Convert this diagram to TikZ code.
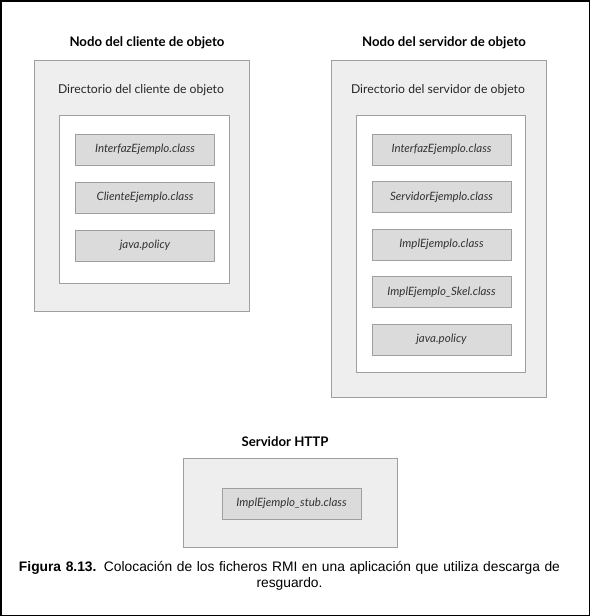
\documentclass[tikz,border=0pt]{standalone}
\usepackage{fontspec}
\setmainfont{Lato}
\newfontfamily\capfont{Liberation Sans}
\usetikzlibrary{positioning}

\begin{document}
\begin{tikzpicture}[x=1pt,y=-1pt,
  nodo/.style={draw=gray!75,line width=0.9pt,fill=gray!13,inner sep=0pt},
  dir/.style={draw=gray!75,line width=0.9pt,fill=white,inner sep=0pt},
  fich/.style={draw=gray!75,line width=0.9pt,fill=gray!28,inner sep=0pt,
    minimum width=139pt,minimum height=31pt,font=\fontsize{11.5}{13}\selectfont\itshape,text=black!80},
  titulo/.style={font=\fontsize{13.2}{15}\selectfont\bfseries},
  subtitulo/.style={font=\fontsize{12.2}{14}\selectfont,text=black!85}]
  \useasboundingbox(0,0)rectangle(590,616);
  \draw[line width=1.5pt](0.75,0.75)rectangle(589.25,615.25);
  % nodo cliente
  \node[titulo](tcli)at(147,43){Nodo del cliente de objeto};
  \node[nodo,minimum width=215pt,minimum height=251pt](cli)at(141.5,185.5){};
  \node[subtitulo](dcli)at(141,90){Directorio del cliente de objeto};
  \node[dir,minimum width=170pt,minimum height=168pt](dircli)at(144,199){};
  \node[fich](c1)at(145,149.5){InterfazEjemplo.class};
  \node[fich](c2)at(145,197.5){ClienteEjemplo.class};
  \node[fich](c3)at(145,245.5){java.policy};
  % nodo servidor
  \node[titulo](tser)at(444,43){Nodo del servidor de objeto};
  \node[nodo,minimum width=215pt,minimum height=337pt](ser)at(438.5,228.5){};
  \node[subtitulo](dser)at(438,90){Directorio del servidor de objeto};
  \node[dir,minimum width=169pt,minimum height=257pt](dirser)at(440.5,243.5){};
  \node[fich](s1)at(441.5,149.5){InterfazEjemplo.class};
  \node[fich](s2)at(441.5,197){ServidorEjemplo.class};
  \node[fich](s3)at(441.5,244.5){ImplEjemplo.class};
  \node[fich](s4)at(441.5,292){ImplEjemplo\_Skel.class};
  \node[fich](s5)at(441.5,339.5){java.policy};
  % servidor http
  \node[titulo](thttp)at(285,442){Servidor HTTP};
  \node[nodo,minimum width=214pt,minimum height=89pt](http)at(290,502.5){};
  \node[fich](h1)at(291.5,503.5){ImplEjemplo\_stub.class};
  % pie
  \node[font=\capfont\fontsize{13.8}{16}\selectfont,align=center](pie)at(289.5,576)
    {\makebox[541pt][s]{{\bfseries Figura 8.13.} Colocación de los ficheros RMI en una aplicación que utiliza descarga de}\\resguardo.};
\end{tikzpicture}
\end{document}
